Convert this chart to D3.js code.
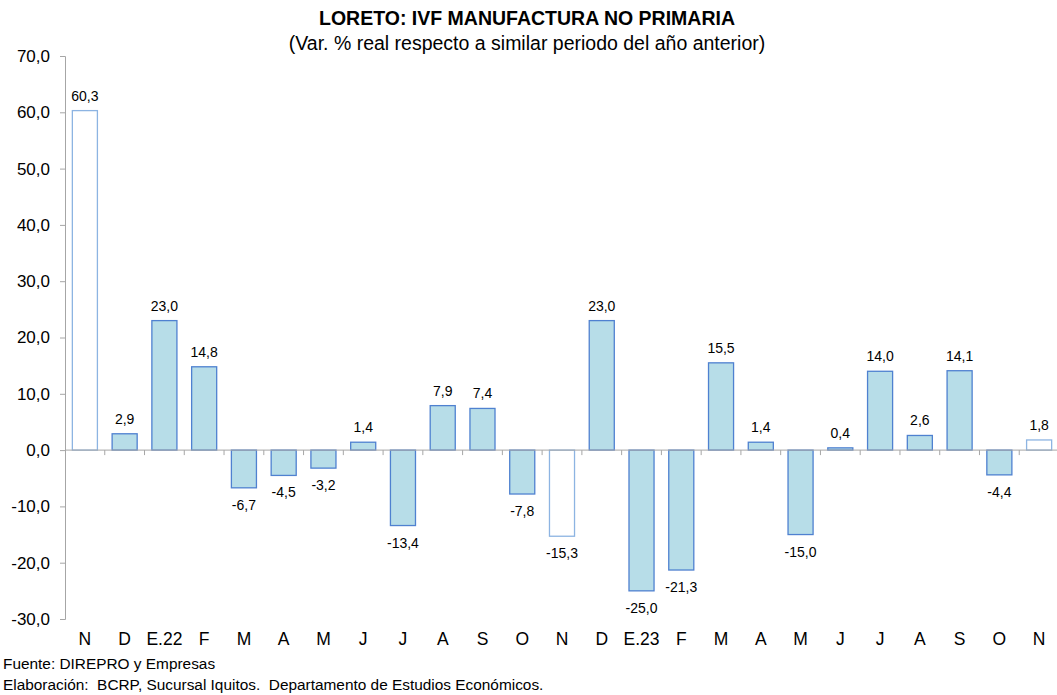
<!DOCTYPE html>
<html>
<head>
<meta charset="utf-8">
<script src="https://cdn.jsdelivr.net/npm/d3@7"></script>
<style>
  body { margin: 0; background: #fff; }
  svg { font-family: "Liberation Sans", Arial, sans-serif; }
</style>
</head>
<body>
<svg id="chart" width="1057" height="695"></svg>
<script>
// Month labels and values (Var. % real)
const months = ['N', 'D', 'E.22', 'F', 'M', 'A', 'M', 'J', 'J', 'A', 'S', 'O',
                'N', 'D', 'E.23', 'F', 'M', 'A', 'M', 'J', 'J', 'A', 'S', 'O', 'N'];
const values = [60.3, 2.9, 23.0, 14.8, -6.7, -4.5, -3.2, 1.4, -13.4, 7.9, 7.4, -7.8,
                -15.3, 23.0, -25.0, -21.3, 15.5, 1.4, -15.0, 0.4, 14.0, 2.6, 14.1, -4.4, 1.8];
// November bars are drawn hollow
const hollow = [0, 12, 24];
const yTicks = [-30, -20, -10, 0, 10, 20, 30, 40, 50, 60, 70];

const svg = d3.select('#chart');
const fmt = v => v.toFixed(1).replace('.', ',');

const x = d3.scaleBand()
    .domain(d3.range(months.length))
    .range([65, 1059])
    .paddingInner(0.37)
    .paddingOuter(0.185);

const y = d3.scaleLinear()
    .domain([-30, 70])
    .range([619, 56]);

// Title
svg.append('text')
    .attr('x', 527).attr('y', 25)
    .attr('text-anchor', 'middle')
    .style('font-size', '19.5px').style('font-weight', 'bold')
    .text('LORETO: IVF MANUFACTURA NO PRIMARIA');
svg.append('text')
    .attr('x', 527).attr('y', 50)
    .attr('text-anchor', 'middle')
    .style('font-size', '19.5px')
    .text('(Var. % real respecto a similar periodo del año anterior)');

// Y axis
const yAxis = svg.append('g')
    .attr('transform', 'translate(65,0)')
    .call(d3.axisLeft(y).tickValues(yTicks).tickSize(5).tickPadding(10).tickFormat(fmt));
yAxis.select('.domain').attr('stroke', '#a6a6a6');
yAxis.selectAll('.tick line').attr('stroke', '#a6a6a6');
yAxis.selectAll('.tick text')
    .style('font-size', '17px').style('font-family', '"Liberation Sans", Arial, sans-serif')
    .attr('fill', '#000');

// Bars
svg.selectAll('rect.bar')
    .data(values)
  .enter().append('rect')
    .attr('class', 'bar')
    .attr('x', (d, i) => x(i))
    .attr('y', d => y(Math.max(0, d)))
    .attr('width', x.bandwidth())
    .attr('height', d => Math.abs(y(d) - y(0)))
    .attr('fill', (d, i) => hollow.includes(i) ? '#ffffff' : '#b7dde8')
    .attr('stroke', (d, i) => hollow.includes(i) ? '#8db4e2' : '#4f81d0')
    .attr('stroke-width', 1.3);

// Zero line with separator ticks
const step = x.step();
svg.append('line')
    .attr('x1', 65).attr('x2', 1057)
    .attr('y1', y(0)).attr('y2', y(0))
    .attr('stroke', '#a6a6a6');
svg.selectAll('line.sep')
    .data(d3.range(1, months.length))
  .enter().append('line')
    .attr('class', 'sep')
    .attr('x1', i => x(i) - step * 0.185).attr('x2', i => x(i) - step * 0.185)
    .attr('y1', y(0)).attr('y2', y(0) + 5)
    .attr('stroke', '#a6a6a6');

// Value labels
svg.selectAll('text.value')
    .data(values)
  .enter().append('text')
    .attr('class', 'value')
    .attr('x', (d, i) => x(i) + x.bandwidth() / 2)
    .attr('y', d => d >= 0 ? y(d) - 10 : y(d) + 22)
    .attr('text-anchor', 'middle')
    .style('font-size', '14px')
    .text(fmt);

// Month labels
svg.selectAll('text.month')
    .data(months)
  .enter().append('text')
    .attr('class', 'month')
    .attr('x', (d, i) => x(i) + x.bandwidth() / 2)
    .attr('y', 645)
    .attr('text-anchor', 'middle')
    .style('font-size', '17.5px')
    .text(d => d);

// Footer
svg.append('text')
    .attr('x', 3).attr('y', 669)
    .style('font-size', '15.4px')
    .text('Fuente: DIREPRO y Empresas');
svg.append('text')
    .attr('x', 3).attr('y', 690)
    .style('font-size', '15.4px')
    .attr('xml:space', 'preserve')
    .text('Elaboración:  BCRP, Sucursal Iquitos.  Departamento de Estudios Económicos.');
</script>
</body>
</html>
